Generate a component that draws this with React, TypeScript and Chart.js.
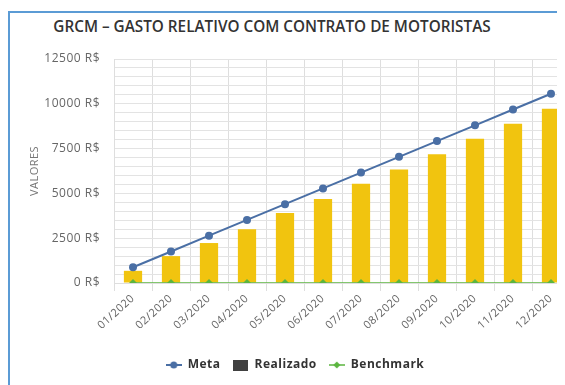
import React, { useEffect, useRef } from "react";
import { Chart, registerables } from "chart.js";

Chart.register(...registerables);

const months = [
  "01/2020", "02/2020", "03/2020", "04/2020", "05/2020", "06/2020",
  "07/2020", "08/2020", "09/2020", "10/2020", "11/2020", "12/2020",
];
const meta = [880, 1760, 2640, 3520, 4400, 5280, 6160, 7040, 7920, 8800, 9680, 10560];
const realizado = [680, 1500, 2230, 3000, 3900, 4690, 5540, 6330, 7180, 8050, 8880, 9730];
const benchmark = [0, 0, 0, 0, 0, 0, 0, 0, 0, 0, 0, 0];

const BLUE = "#4a6fa5";
const YELLOW = "#f1c40f";
const GREEN = "#5bb53f";
const DARK = "#404040";
const FONT = "'Open Sans', sans-serif";

function lineMarker(color: string, shape: "circle" | "diamond", lw: number) {
  const c = document.createElement("canvas");
  c.width = 16;
  c.height = 10;
  const g = c.getContext("2d")!;
  g.strokeStyle = color;
  g.lineWidth = lw;
  g.beginPath();
  g.moveTo(0, 5);
  g.lineTo(16, 5);
  g.stroke();
  g.fillStyle = color;
  g.beginPath();
  if (shape === "circle") {
    g.arc(8, 5, 3.5, 0, Math.PI * 2);
  } else {
    g.moveTo(8, 1.5);
    g.lineTo(11.5, 5);
    g.lineTo(8, 8.5);
    g.lineTo(4.5, 5);
    g.closePath();
  }
  g.fill();
  return c;
}

function boxMarker(color: string) {
  const c = document.createElement("canvas");
  c.width = 15;
  c.height = 11;
  const g = c.getContext("2d")!;
  g.fillStyle = color;
  g.fillRect(0, 0, 15, 11);
  return c;
}

// slightly wider text spacing for all canvas labels, legend nudged right
const tweaks = {
  id: "tweaks",
  beforeLayout: (ch: any) => {
    ch.ctx.letterSpacing = "0.5px";
  },
  afterLayout: (ch: any) => {
    if (ch.legend) {
      ch.legend.left += 5;
      ch.legend.right += 5;
    }
  },
  beforeDraw: (ch: any) => {
    ch.ctx.letterSpacing = "0.5px";
  },
};

export default function App() {
  const ref = useRef<HTMLCanvasElement>(null);

  useEffect(() => {
    if (!ref.current) return;
    const markers = [
      lineMarker(BLUE, "circle", 2),
      boxMarker(DARK),
      lineMarker(GREEN, "diamond", 1.5),
    ];
    const chart = new Chart(ref.current, {
      type: "bar",
      plugins: [tweaks],
      data: {
        labels: months,
        datasets: [
          {
            type: "line",
            label: "Meta",
            data: meta,
            borderColor: BLUE,
            backgroundColor: BLUE,
            borderWidth: 2,
            pointRadius: 4,
            pointBackgroundColor: BLUE,
            pointBorderWidth: 0,
            order: 0,
          },
          {
            type: "bar",
            label: "Realizado",
            data: realizado,
            backgroundColor: YELLOW,
            barPercentage: 0.48,
            categoryPercentage: 1,
            order: 2,
          },
          {
            type: "line",
            label: "Benchmark",
            data: benchmark,
            borderColor: GREEN,
            backgroundColor: GREEN,
            borderWidth: 1.5,
            pointStyle: "rectRot",
            pointRadius: 4,
            pointBackgroundColor: GREEN,
            pointBorderWidth: 0,
            order: 1,
          },
        ],
      },
      options: {
        responsive: false,
        animation: false,
        layout: { padding: { top: 46, right: 8, bottom: 4, left: 0 } },
        plugins: {
          title: { display: false },
          tooltip: { enabled: false },
          legend: {
            position: "bottom",
            labels: {
              usePointStyle: true,
              pointStyleWidth: 16,
              padding: 12,
              color: "#333",
              font: { family: FONT, size: 12, weight: "bold" },
              generateLabels: (ch: any) =>
                ch.data.datasets.map((ds: any, i: number) => ({
                  text: ds.label,
                  pointStyle: markers[i],
                  fillStyle: "transparent",
                  strokeStyle: "transparent",
                  lineWidth: 0,
                  fontColor: "#333",
                  datasetIndex: i,
                  hidden: false,
                })),
            },
          },
        },
        scales: {
          x: {
            offset: true,
            grid: {
              offset: true,
              color: "#dedede",
              drawTicks: true,
              tickLength: 8,
            },
            border: { color: "#dedede" },
            ticks: {
              color: "#666",
              font: { family: FONT, size: 11 },
              minRotation: 42,
              maxRotation: 42,
              padding: 1,
              autoSkip: false,
            },
            afterFit: (s: any) => {
              s.height = 64;
            },
          },
          y: {
            min: 0,
            max: 12500,
            grid: { color: "#e3e3e3", drawTicks: false },
            border: { color: "#dedede" },
            ticks: {
              stepSize: 500,
              autoSkip: false,
              padding: 14,
              color: "#666",
              font: { family: FONT, size: 12 },
              callback: (v: any) => (Number(v) % 2500 === 0 ? `${v} R$` : ""),
            },
            title: {
              display: true,
              text: "VALORES",
              color: "#777",
              font: { family: FONT, size: 11 },
              padding: { top: 18, bottom: 0 },
            },
            afterFit: (s: any) => {
              s.width = 104;
            },
          },
        },
      },
    });
    return () => chart.destroy();
  }, []);

  return (
    <div
      style={{
        marginTop: 3,
        borderTop: "2px solid #5b9bd5",
        borderLeft: "2px solid #5b9bd5",
        width: 555,
        height: 380,
        position: "relative",
        overflow: "hidden",
      }}
    >
      <style>{`html,body{overflow:hidden}`}</style>
      <div
        style={{
          position: "absolute",
          left: 0,
          top: 3,
          width: 524,
          textAlign: "center",
          fontFamily: FONT,
          fontWeight: 600,
          fontSize: 15.3,
          lineHeight: "20px",
          color: "#333",
          whiteSpace: "nowrap",
        }}
      >
        GRCM – GASTO RELATIVO COM CONTRATO DE MOTORISTAS
      </div>
      <canvas
        ref={ref}
        width={568}
        height={372}
        style={{ position: "absolute", left: 0, top: 0 }}
      />
    </div>
  );
}
